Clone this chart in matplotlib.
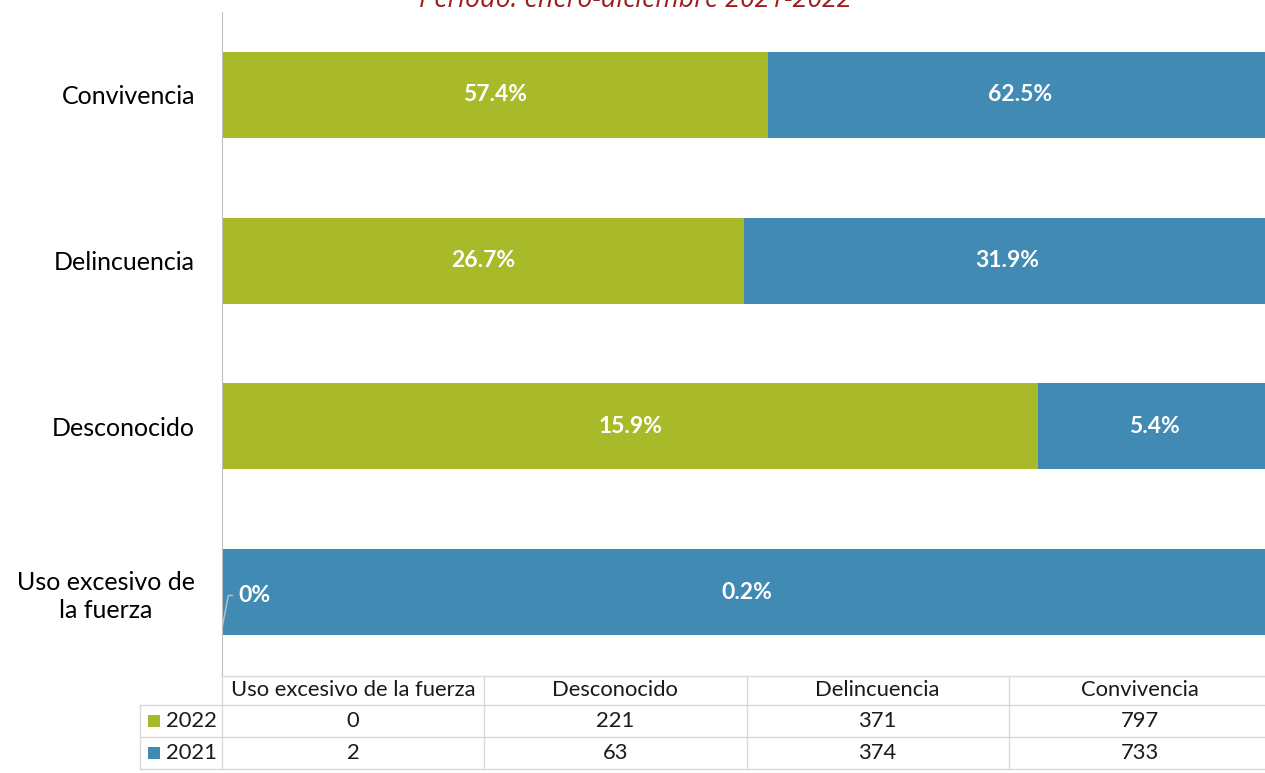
import matplotlib.pyplot as plt
from matplotlib.patches import Rectangle
from matplotlib.transforms import blended_transform_factory

# data (bottom to top on the chart, left to right in the table)
categories = ["Uso excesivo de la fuerza", "Desconocido", "Delincuencia", "Convivencia"]
axis_labels = ["Uso excesivo de\nla fuerza", "Desconocido", "Delincuencia", "Convivencia"]
years = ["2022", "2021"]
values_2022 = [0, 221, 371, 797]
values_2021 = [2, 63, 374, 733]

green = "#A8B92A"
blue = "#418AB4"
grid_c = "#D9D9D9"
title_c = "#9E1E1E"
FONT = "Lato"

W, H = 1265, 773
fig = plt.figure(figsize=(W / 100, H / 100), dpi=100)
fig.patch.set_facecolor("white")

# plot area in pixels: x 222..1271, y 12..675
ax = fig.add_axes([222 / W, (H - 675) / H, (1271 - 222) / W, (675 - 12) / H])

# each bar split into the share of each year (100% stacked)
share22 = [a / (a + b) for a, b in zip(values_2022, values_2021)]
share21 = [b / (a + b) for a, b in zip(values_2022, values_2021)]
ypos = list(range(len(categories)))

ax.barh(ypos, share22, height=0.52, color=green)
ax.barh(ypos, share21, left=share22, height=0.52, color=blue)

ax.set_xlim(0, 1)
ax.set_ylim(-0.5, 3.5)
ax.set_xticks([])
ax.set_yticks(ypos)
ax.set_yticklabels(axis_labels, fontsize=18, family=FONT, multialignment="center",
                   linespacing=1.25)
ax.tick_params(axis="y", length=0, pad=19.5)
for s in ["top", "right", "bottom"]:
    ax.spines[s].set_visible(False)
ax.spines["left"].set_color("#BFBFBF")


def fmt(p):
    return "0%" if p == 0 else f"{p * 100:.1f}%"


tot22 = sum(values_2022)
tot21 = sum(values_2021)
for i in ypos:
    p22 = values_2022[i] / tot22
    p21 = values_2021[i] / tot21
    if share22[i] > 0:
        ax.text(share22[i] / 2, i, fmt(p22), ha="center", va="center",
                color="white", fontsize=16.5, fontweight="bold", family=FONT)
    else:
        # leader line for the empty segment
        ax.plot([0.0, 0.006, 0.01], [i - 0.22, -0.02 + i, -0.02 + i], color="#BFBFBF", lw=1)
        ax.text(0.016, i - 0.02, fmt(p22), ha="left", va="center",
                color="white", fontsize=16.5, fontweight="bold", family=FONT)
    ax.text(share22[i] + share21[i] / 2, i, fmt(p21), ha="center", va="center",
            color="white", fontsize=16.5, fontweight="bold", family=FONT)

# title (cut at top in the original)
fig.text(635 / W, 1 - 7 / H, "Periodo: enero-diciembre 2021-2022", ha="center",
         va="baseline", color=title_c, fontsize=19.4, style="italic", family="Open Sans")

# data table under the plot
tr = blended_transform_factory(ax.transAxes, fig.transFigure)
row_y = [676, 705, 737, 769]  # horizontal borders in pixels
def fy(p):
    return 1 - p / H

left_x = (140 - 222) / (1271 - 222)
ncol = len(categories)

# horizontal lines
fig.add_artist(plt.Line2D([0, 1], [fy(row_y[0])] * 2, transform=tr, color=grid_c, lw=1))
for yy in row_y[1:]:
    fig.add_artist(plt.Line2D([left_x, 1], [fy(yy)] * 2, transform=tr, color=grid_c, lw=1))
# vertical lines
fig.add_artist(plt.Line2D([left_x, left_x], [fy(row_y[1]), fy(row_y[3])], transform=tr, color=grid_c, lw=1))
for c in range(ncol):
    x = c / ncol
    fig.add_artist(plt.Line2D([x, x], [fy(row_y[0]), fy(row_y[3])], transform=tr, color=grid_c, lw=1))

for c, cat in enumerate(categories):
    xc = (c + 0.5) / ncol
    fig.text(xc, fy((row_y[0] + row_y[1]) / 2), cat, transform=tr, ha="center", va="center",
             fontsize=15.8, family=FONT, color="#1A1A1A")
    for r, vals in enumerate([values_2022, values_2021]):
        fig.text(xc, fy((row_y[r + 1] + row_y[r + 2]) / 2), str(vals[c]), transform=tr,
                 ha="center", va="center", fontsize=15.8, family=FONT, color="#1A1A1A")

for r, (yr, col) in enumerate(zip(years, [green, blue])):
    yc = (row_y[r + 1] + row_y[r + 2]) / 2
    fig.add_artist(Rectangle((148 / W, fy(yc + 6)), 12 / W, 12 / H, transform=fig.transFigure,
                             facecolor=col, edgecolor="none"))
    fig.text(166 / W, fy(yc), yr, ha="left", va="center", fontsize=15.8, family=FONT, color="#1A1A1A")

fig.savefig("out.png", dpi=100)
